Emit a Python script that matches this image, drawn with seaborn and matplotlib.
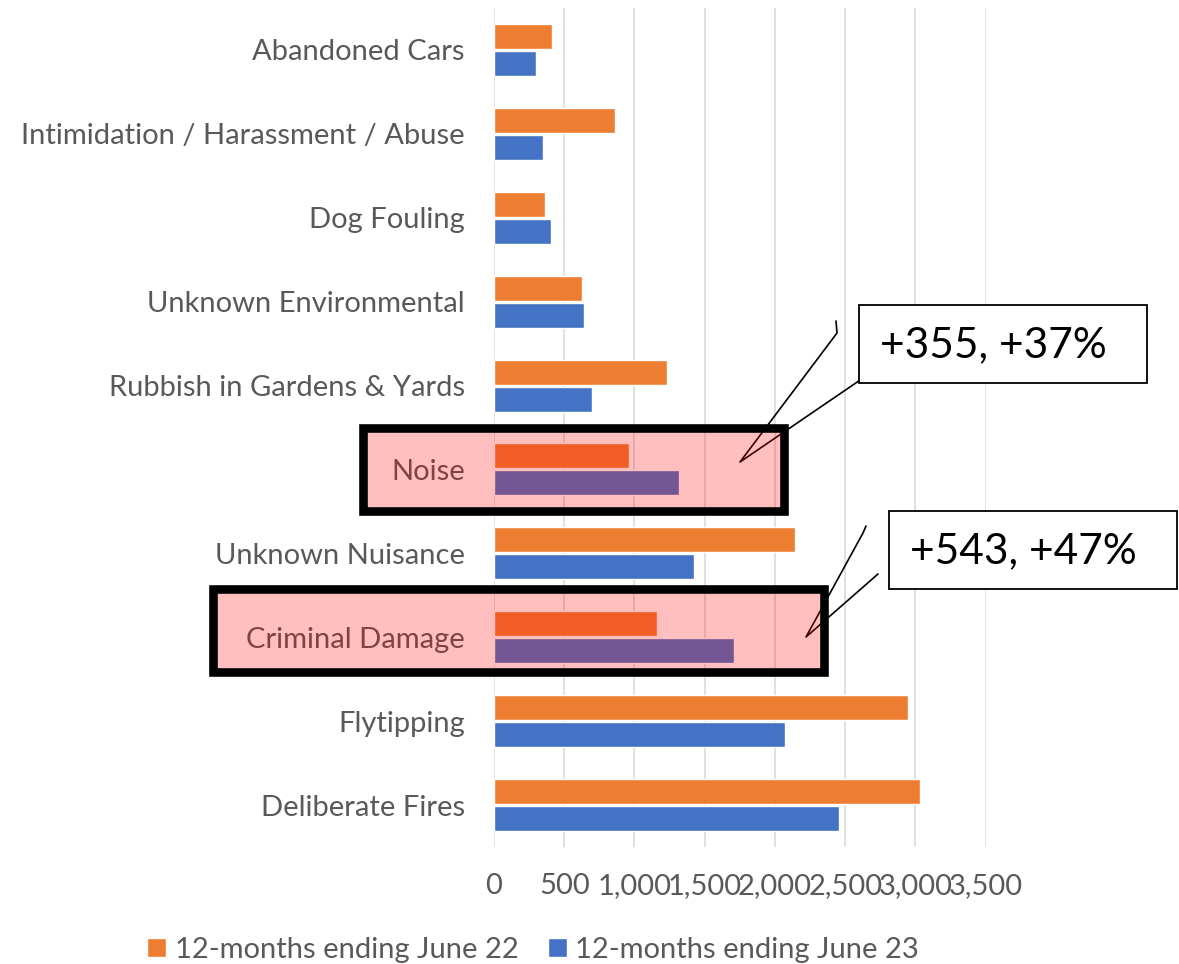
import numpy as np
import pandas as pd
import matplotlib.pyplot as plt
import matplotlib.patches as mpatches
from matplotlib.lines import Line2D
import seaborn as sns

categories = ["Abandoned Cars", "Intimidation / Harassment / Abuse", "Dog Fouling",
              "Unknown Environmental", "Rubbish in Gardens & Yards", "Noise",
              "Unknown Nuisance", "Criminal Damage", "Flytipping", "Deliberate Fires"]
june22 = [413, 862, 363, 627, 1232, 962, 2144, 1163, 2949, 3034]
june23 = [299, 349, 406, 641, 698, 1317, 1425, 1706, 2073, 2457]
series = ["12-months ending June 22", "12-months ending June 23"]
xticks = [0, 500, 1000, 1500, 2000, 2500, 3000, 3500]
callouts = ["+355, +37%", "+543, +47%"]

ORANGE = "#ED7D31"
BLUE = "#4472C4"
GREY = "#595959"
FS = 21

sns.set_style("white")
plt.rcParams["font.family"] = ["Lato", "DejaVu Sans"]

W, H = 1179, 964


def fx(px):
    return px / W


def fy(py):
    return 1 - py / H


df = pd.DataFrame({
    "category": categories * 2,
    "period": [series[0]] * len(categories) + [series[1]] * len(categories),
    "value": june22 + june23,
})

fig = plt.figure(figsize=(W / 100, H / 100), dpi=100)
ax = fig.add_axes([fx(494), fy(847), fx(985.7) - fx(494), fy(8) - fy(847)])

sns.barplot(data=df, y="category", x="value", hue="period", orient="h",
            order=categories, hue_order=series, palette=[ORANGE, BLUE],
            saturation=1, width=0.643, gap=0.073, ax=ax)
handles, labels = ax.get_legend_handles_labels()
ax.get_legend().remove()

ax.set_xlim(0, 3500)
ax.set_xticks(xticks)
ax.set_xticklabels([f"{v:,}" for v in xticks])
ax.set_xlabel("")
ax.set_ylabel("")
ax.grid(axis="x", color="#D9D9D9", lw=1.1)
ax.grid(axis="y", visible=False)
ax.set_axisbelow(True)
for s in ax.spines.values():
    s.set_visible(False)
ax.tick_params(axis="y", length=0, pad=21, labelsize=FS, labelcolor=GREY)
ax.tick_params(axis="x", length=0, pad=19, labelsize=FS, labelcolor=GREY)

fig.legend(handles, labels, loc="lower left", bbox_to_anchor=(fx(147), fy(963)),
           ncol=2, frameon=False, fontsize=FS, labelcolor=GREY,
           handlelength=0.65, handleheight=0.65, handletextpad=0.3,
           columnspacing=1.0, borderpad=0, borderaxespad=0)

# callout pointer lines (under the highlight boxes)
lines = [
    [(836, 321), (837, 333), (740, 462), (869, 374)],
    [(866, 526), (863, 533), (806, 637), (878, 574)],
]
for pts in lines:
    xs = [fx(p[0]) for p in pts]
    ys = [fy(p[1]) for p in pts]
    fig.add_artist(Line2D(xs, ys, color="black", lw=1.2, zorder=4))

# highlight boxes
for (x0, y0, x1, y1) in [(362.5, 428, 784, 511), (212.5, 588.5, 824, 672)]:
    fig.add_artist(mpatches.Rectangle((fx(x0), fy(y1)), fx(x1) - fx(x0), fy(y0) - fy(y1),
                                      facecolor=(1, 0, 0, 0.25), edgecolor="black",
                                      lw=6.2, zorder=5))

# callout boxes
for (x0, y0, x1, y1), txt in zip([(859, 305, 1147, 383), (889, 511, 1177, 589)], callouts):
    fig.add_artist(mpatches.Rectangle((fx(x0), fy(y1)), fx(x1) - fx(x0), fy(y0) - fy(y1),
                                      facecolor="white", edgecolor="black", lw=1.3, zorder=6))
    fig.text(fx(x0 + 21), fy((y0 + y1) / 2 + 1), txt, fontsize=30.5, color="black",
             ha="left", va="center", zorder=7)

fig.savefig("out.png", dpi=100)
